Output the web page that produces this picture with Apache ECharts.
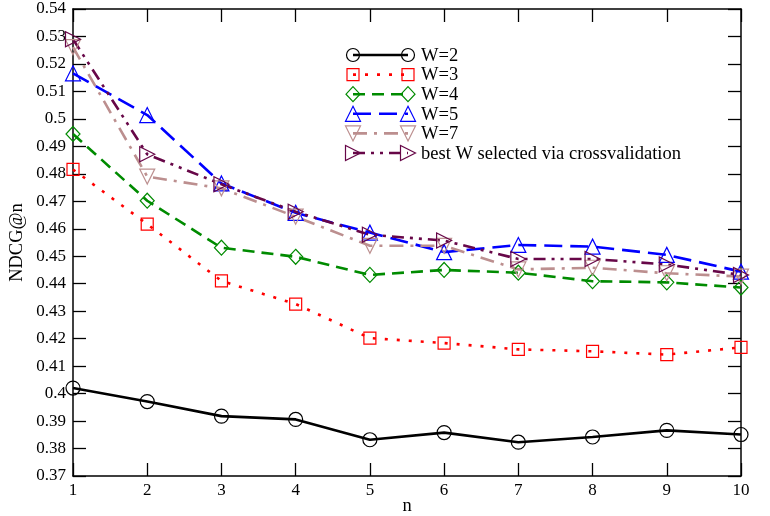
<!DOCTYPE html>
<html><head><meta charset="utf-8">
<script src="https://cdn.jsdelivr.net/npm/echarts@6/dist/echarts.min.js"></script>
<style>html,body{margin:0;padding:0;background:#fff;overflow:hidden}#c{width:770px;height:516px}</style>
</head><body><div id="c"></div>
<script>
var nValues = [1, 2, 3, 4, 5, 6, 7, 8, 9, 10];
var seriesNames = ['W=2', 'W=3', 'W=4', 'W=5', 'W=7', 'best W selected via crossvalidation'];
var w2 = [0.4020, 0.3971, 0.3918, 0.3906, 0.3832, 0.3858, 0.3823, 0.3842, 0.3866, 0.3851];
var w3 = [0.4816, 0.4617, 0.4410, 0.4326, 0.4202, 0.4184, 0.4161, 0.4154, 0.4142, 0.4168];
var w4 = [0.4945, 0.4702, 0.4531, 0.4498, 0.4432, 0.4450, 0.4440, 0.4409, 0.4405, 0.4386];
var w5 = [0.5166, 0.5014, 0.4765, 0.4658, 0.4586, 0.4515, 0.4541, 0.4535, 0.4505, 0.4444];
var w7 = [0.5261, 0.4790, 0.4747, 0.4644, 0.4538, 0.4538, 0.4452, 0.4458, 0.4438, 0.4426];
var wBest = [0.5290, 0.4871, 0.4762, 0.4662, 0.4578, 0.4557, 0.4490, 0.4490, 0.4470, 0.4432];
var yTicks = [0.37, 0.54, 0.01];

var FONT = '"Liberation Serif", "DejaVu Serif", serif';
var styles = [
  {color: '#000000', dash: 'solid', symbol: 'circle', size: 14, rot: 0},
  {color: '#ff0000', dash: [3, 9], symbol: 'rect', size: 12, rot: 0},
  {color: '#008b00', dash: [12, 7], symbol: 'diamond', size: [14, 15], rot: 0},
  {color: '#0000ff', dash: [18, 8], symbol: 'triangle', size: 15, rot: 0},
  {color: '#bc8f8f', dash: [14, 7, 3, 7], symbol: 'triangle', size: 15, rot: 180},
  {color: '#670748', dash: [12, 6, 3, 6, 3, 6], symbol: 'triangle', size: 15, rot: -90}
];
var allData = [w2, w3, w4, w5, w7, wBest];

var series = allData.map(function (vals, i) {
  var s = styles[i];
  return {
    name: seriesNames[i], type: 'line',
    data: nValues.map(function (n, k) { return [n, vals[k]]; }),
    symbol: s.symbol, symbolSize: s.size, symbolRotate: s.rot,
    showAllSymbol: true,
    lineStyle: {color: s.color, width: 2.6, type: s.dash, cap: 'butt'},
    itemStyle: {color: 'rgba(0,0,0,0)', borderColor: s.color, borderWidth: 1.2},
    emphasis: {disabled: true},
    animation: false
  };
});

// legend drawn as graphic (line with a symbol at each end, as in the original)
function legendSymbol(kind, rot, cx, cy, color) {
  var st = {fill: 'none', stroke: color, lineWidth: 1.2};
  if (kind === 'circle') return {type: 'circle', shape: {cx: cx, cy: cy, r: 6.5}, style: st};
  if (kind === 'rect') return {type: 'rect', shape: {x: cx - 6, y: cy - 6, width: 12, height: 12}, style: st};
  if (kind === 'diamond') return {type: 'polygon', shape: {points: [[cx, cy - 7.5], [cx + 7, cy], [cx, cy + 7.5], [cx - 7, cy]]}, style: st};
  var pts;
  if (rot === 0) pts = [[cx, cy - 7.5], [cx + 7.5, cy + 7.5], [cx - 7.5, cy + 7.5]];
  else if (rot === 180) pts = [[cx, cy + 7.5], [cx + 7.5, cy - 7.5], [cx - 7.5, cy - 7.5]];
  else pts = [[cx + 7.5, cy], [cx - 7.5, cy - 7.5], [cx - 7.5, cy + 7.5]];
  return {type: 'polygon', shape: {points: pts}, style: st};
}
var graphics = [];
seriesNames.forEach(function (name, i) {
  var s = styles[i];
  var y = 55 + i * 19.6;
  var x1 = 353, x2 = 408;
  graphics.push({type: 'line', shape: {x1: x1, y1: y, x2: x2, y2: y},
    style: {stroke: s.color, lineWidth: 2.6, lineDash: s.dash === 'solid' ? null : s.dash}});
  graphics.push(legendSymbol(s.symbol, s.rot, x1, y, s.color));
  graphics.push(legendSymbol(s.symbol, s.rot, x2, y, s.color));
  graphics.push({type: 'text', x: 421, y: y + 1, style: {text: name, fill: '#000', font: '18.5px ' + FONT, verticalAlign: 'middle', align: 'left'}});
});

var axisLineStyle = {color: '#000', width: 1.5};
var tickStyle = {show: true, inside: true, length: 13, lineStyle: {color: '#000', width: 1.3}};
var chart = echarts.init(document.getElementById('c'), null, {renderer: 'canvas'});
chart.setOption({
  animation: false,
  backgroundColor: '#fff',
  grid: {left: 73, right: 29, top: 9, bottom: 40, containLabel: false, outerBoundsMode: 'none'},
  xAxis: [{
    type: 'value', min: nValues[0], max: nValues[nValues.length - 1], interval: 1,
    position: 'bottom',
    name: 'n', nameLocation: 'middle', nameGap: 21, nameMoveOverlap: false,
    nameTextStyle: {fontFamily: FONT, fontSize: 18.5, color: '#000'},
    axisLine: {show: true, onZero: false, lineStyle: axisLineStyle},
    axisTick: tickStyle, splitLine: {show: false},
    axisLabel: {fontFamily: FONT, fontSize: 17, color: '#000', margin: 6}
  }, {
    type: 'value', min: nValues[0], max: nValues[nValues.length - 1], interval: 1,
    position: 'top',
    axisLine: {show: true, onZero: false, lineStyle: axisLineStyle},
    axisTick: tickStyle, splitLine: {show: false}, axisLabel: {show: false}
  }],
  yAxis: [{
    type: 'value', min: yTicks[0], max: yTicks[1], interval: yTicks[2],
    position: 'left',
    name: 'NDCG@n', nameLocation: 'middle', nameGap: 46, nameRotate: 90, nameMoveOverlap: false,
    nameTextStyle: {fontFamily: FONT, fontSize: 18.5, color: '#000'},
    axisLine: {show: true, onZero: false, lineStyle: axisLineStyle},
    axisTick: tickStyle, splitLine: {show: false},
    axisLabel: {fontFamily: FONT, fontSize: 17, color: '#000', margin: 7,
      formatter: function (v) { return String(+v.toFixed(2)); }}
  }, {
    type: 'value', min: yTicks[0], max: yTicks[1], interval: yTicks[2],
    position: 'right',
    axisLine: {show: true, onZero: false, lineStyle: axisLineStyle},
    axisTick: tickStyle, splitLine: {show: false}, axisLabel: {show: false}
  }],
  series: series,
  graphic: graphics
});
</script>
</body></html>
